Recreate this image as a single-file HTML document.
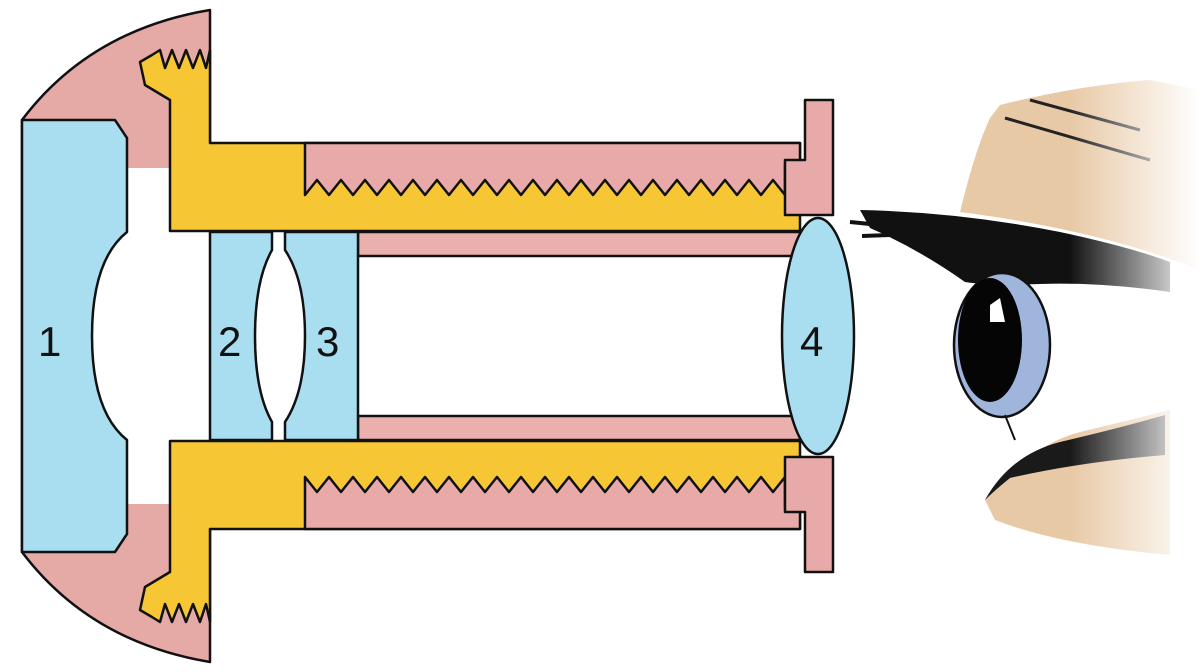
<!DOCTYPE html>
<html><head><meta charset="utf-8"><style>
html,body{margin:0;padding:0;background:#fff;width:1200px;height:672px;overflow:hidden}
svg{display:block}
text{font-family:"Liberation Sans",sans-serif;font-size:42px;fill:#111}
</style></head><body>
<svg width="1200" height="672" viewBox="0 0 1200 672" xmlns="http://www.w3.org/2000/svg">
<defs>
<linearGradient id="fade" x1="0" x2="1" y1="0" y2="0">
<stop offset="0" stop-color="#fff" stop-opacity="0"/>
<stop offset="1" stop-color="#fff" stop-opacity="1"/>
</linearGradient>
<g id="half" stroke="#111" stroke-width="2.5" stroke-linejoin="round">
<path d="M160,50 L165,68 L172,50 L179,68 L186,50 L193,68 L200,50 L206,68 L210,50 L210,143 L800,143 L800,231 L170,231 L170,100 L145,85 L140,62 L152,55 Z" fill="#f7c634"/>
<path d="M305,143 L800,143 L800,165 L785,165 L785,195 L773,180 L761,195 L749,180 L737,195 L725,180 L713,195 L701,180 L689,195 L677,180 L665,195 L653,180 L641,195 L629,180 L617,195 L605,180 L593,195 L581,180 L569,195 L557,180 L545,195 L533,180 L521,195 L509,180 L497,195 L485,180 L473,195 L461,180 L449,195 L437,180 L425,195 L413,180 L401,195 L389,180 L377,195 L365,180 L353,195 L341,180 L329,195 L317,180 L305,195 Z" fill="#e8aaa8"/>
<path d="M805,100 L833,100 L833,215 L785,215 L785,160 L805,160 Z" fill="#e8aaa8"/>
<rect x="358" y="232" width="442" height="24" fill="#eab0ae"/>
</g>
</defs>
<g stroke="#111" stroke-width="2.5" stroke-linejoin="round">
<path d="M210,10 Q90,30 22,120 L22,552 Q90,642 210,662 Z" fill="#e5a9a6"/>
<rect x="127" y="168" width="83" height="336" fill="#fff" stroke="none"/>
<rect x="90" y="230" width="40" height="212" fill="#fff" stroke="none"/>
</g>
<use href="#half"/>
<use href="#half" transform="translate(0,672) scale(1,-1)"/>
<g stroke="#111" stroke-width="2.5" stroke-linejoin="round" fill="#a8def0">
<path d="M22,120 L115,120 L127,138 L127,232 Q92,260 92,336 Q92,412 127,440 L127,534 L115,552 L22,552 Z"/>
<path d="M210,232 L272,232 L272,250 Q255,280 255,336 Q255,392 272,422 L272,440 L210,440 Z"/>
<path d="M358,232 L285,232 L285,250 Q305,280 305,336 Q305,392 285,422 L285,440 L358,440 Z"/>
<ellipse cx="818" cy="336" rx="36" ry="118"/>
</g>
<text x="38" y="356">1</text>
<text x="218" y="356">2</text>
<text x="316" y="356">3</text>
<text x="800" y="356">4</text>
<!-- eye -->
<path d="M960,212 Q975,150 990,118 L1000,105 Q1080,85 1150,80 L1200,90 L1200,270 Q1100,230 960,212 Z" fill="#e8c9a6"/>
<path d="M1005,118 L1150,160 M1030,100 L1140,130" stroke="#222" stroke-width="3" fill="none"/>
<path d="M860,210 Q960,212 1060,232 Q1130,247 1170,262 L1170,292 Q1100,282 1040,284 Q990,286 965,282 Q920,250 870,228 Z" fill="#111"/>
<path d="M880,225 L850,222 M890,235 L862,236" stroke="#111" stroke-width="4"/>
<ellipse cx="1002" cy="345" rx="48" ry="72" fill="#9fb5db" stroke="#111" stroke-width="2.5"/>
<ellipse cx="990" cy="340" rx="32" ry="62" fill="#050505"/>
<path d="M990,305 L1000,298 L1005,322 L990,322 Z" fill="#fff"/>
<path d="M1005,415 L1015,440" stroke="#111" stroke-width="2"/>
<path d="M985,500 Q1030,445 1080,432 Q1130,420 1170,410 L1170,555 Q1060,545 995,520 Z" fill="#e8c9a6"/>
<path d="M985,500 Q1010,455 1060,442 Q1120,428 1165,415 L1165,455 Q1080,462 1010,478 Q995,490 985,500 Z" fill="#1a1a1a"/>
<rect x="1070" y="60" width="130" height="520" fill="url(#fade)"/>
</svg>
</body></html>
